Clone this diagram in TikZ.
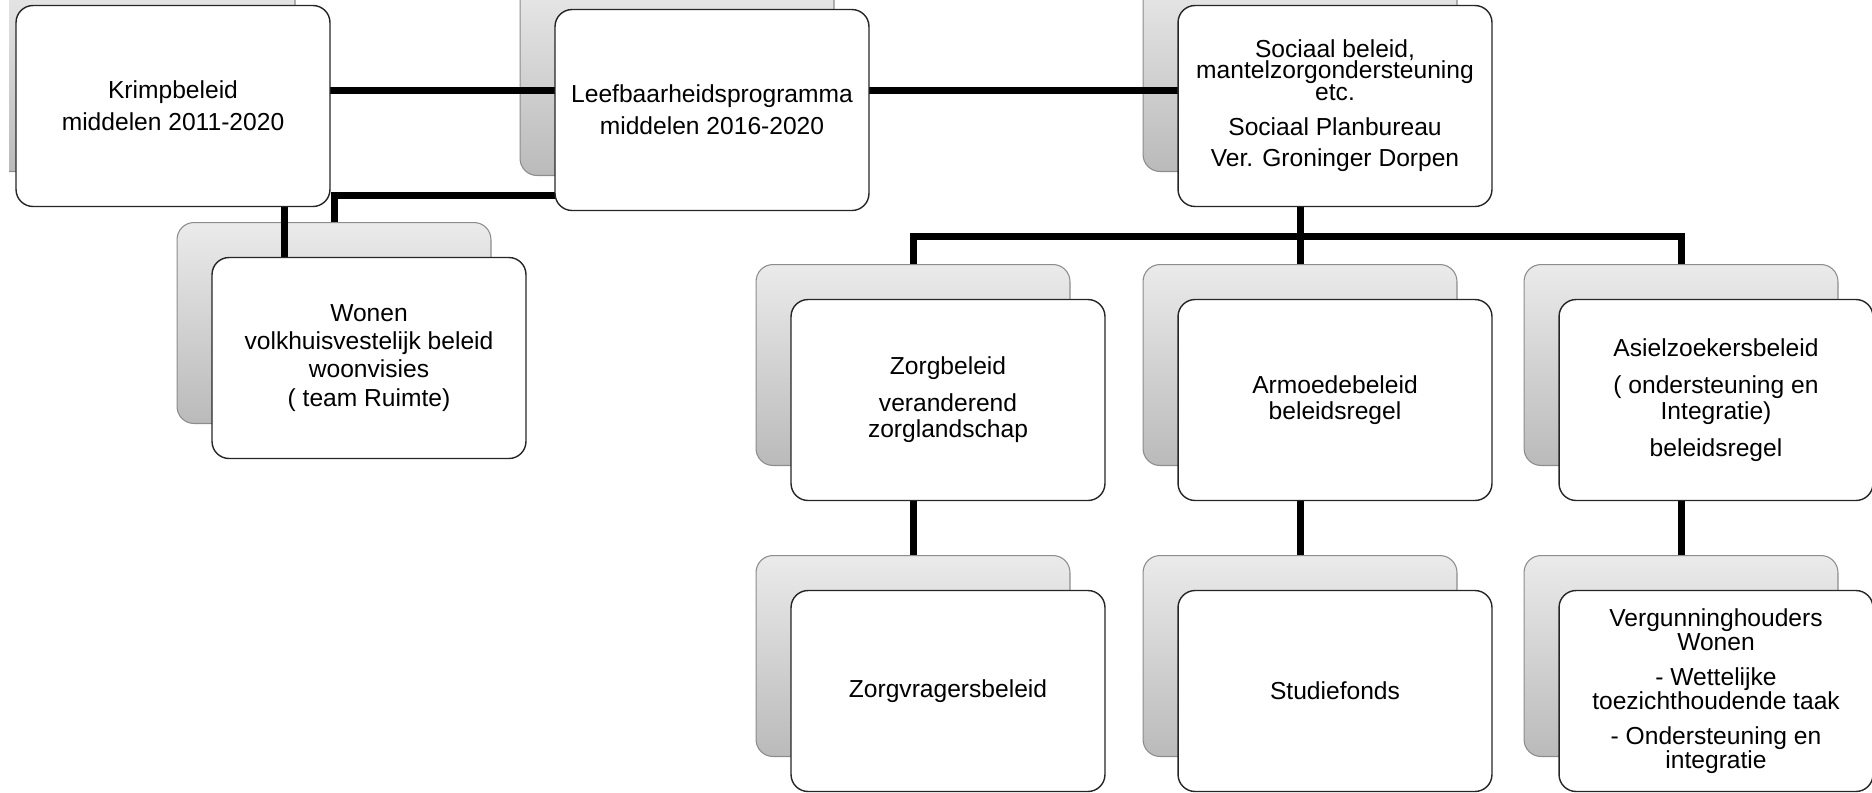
\documentclass[tikz,border=0pt]{standalone}
\usepackage{fontspec}
\setmainfont{Liberation Sans}
\usepackage{tikz}

\begin{document}
\setlength{\lineskiplimit}{-20pt}
\begin{tikzpicture}[x=0.02cm,y=-0.02cm,
        back/.style={rectangle,rounded corners=0.34cm,draw=black!45,line width=0.6pt,top color=black!8,bottom color=black!27,minimum width=6.28cm,minimum height=4.02cm},
        card/.style={rectangle,rounded corners=0.34cm,draw=black!85,line width=0.8pt,fill=white,align=center,minimum width=6.28cm,minimum height=4.02cm,font=\fontsize{14}{15}\selectfont},
        link/.style={line width=0.14cm}]
        \useasboundingbox (0,0) rectangle (1872,792);
        \clip (9,0) rectangle (1872,792);
        % achterste kaarten
        \node[back] (krimp-bg) at (138,71) {};
        \node[back] (leef-bg) at (677,75) {};
        \node[back] (sociaal-bg) at (1300,71) {};
        \node[back] (wonen-bg) at (334,323) {};
        \node[back] (zorg-bg) at (913,365) {};
        \node[back] (armoede-bg) at (1300,365) {};
        \node[back] (asiel-bg) at (1681,365) {};
        \node[back] (zorgvr-bg) at (913,656) {};
        \node[back] (studie-bg) at (1300,656) {};
        \node[back] (vergun-bg) at (1681,656) {};
        % verbindingen
        \coordinate (toprow) at (0,90);
        \coordinate (lw) at (0,195);
        \coordinate (kw) at (284,0);
        \coordinate (hub) at (1300,236);
        \draw[link] (krimp-bg.center |- toprow) -- (leef-bg.center |- toprow);
        \draw[link] (leef-bg.center |- toprow) -- (sociaal-bg.center |- toprow);
        \draw[link] (kw |- krimp-bg.center) -- (kw |- wonen-bg.center);
        \draw[link] (leef-bg.center |- lw) -| (wonen-bg.north);
        \draw[link] (sociaal-bg.center) -- (hub);
        \draw[link] (hub) -| (zorg-bg.north);
        \draw[link] (hub) -- (armoede-bg.north);
        \draw[link] (hub) -| (asiel-bg.north);
        \draw[link] (zorg-bg.center) -- (zorgvr-bg.north);
        \draw[link] (armoede-bg.center) -- (studie-bg.north);
        \draw[link] (asiel-bg.center) -- (vergun-bg.north);
        % voorste kaarten
        \node[card] (krimp) at ([shift={(35,35)}]krimp-bg.center) {Krimpbeleid\\[3pt]middelen 2011-2020};
        \node[card] (leef) at ([shift={(35,35)}]leef-bg.center) {Leefbaarheidsprogramma\\[3pt]middelen 2016-2020};
        \node[card,font=\fontsize{14}{12}\selectfont] (sociaal) at ([shift={(35,35)}]sociaal-bg.center) {Sociaal beleid,\\mantelzorgondersteuning\\etc.\\[8pt]Sociaal Planbureau\\[6pt]Ver. Groninger Dorpen};
        \node[card,font=\fontsize{14}{16}\selectfont] (wonen) at ([shift={(35,35)}]wonen-bg.center) {Wonen\\volkhuisvestelijk beleid\\woonvisies\\( team Ruimte)};
        \node[card] (zorg) at ([shift={(35,35)}]zorg-bg.center) {Zorgbeleid\\[6pt]veranderend\\zorglandschap};
        \node[card] (armoede) at ([shift={(35,35)}]armoede-bg.center) {Armoedebeleid\\beleidsregel};
        \node[card] (asiel) at ([shift={(35,35)}]asiel-bg.center) {Asielzoekersbeleid\\[6pt]( ondersteuning en\\Integratie)\\[6pt]beleidsregel};
        \node[card] (zorgvr) at ([shift={(35,35)}]zorgvr-bg.center) {Zorgvragersbeleid};
        \node[card] (studie) at ([shift={(35,35)}]studie-bg.center) {Studiefonds};
        \node[card,font=\fontsize{14}{13.5}\selectfont] (vergun) at ([shift={(35,35)}]vergun-bg.center) {Vergunninghouders\\Wonen\\[6.5pt]- Wettelijke\\toezichthoudende taak\\[6.5pt]- Ondersteuning en\\integratie};
    \end{tikzpicture}
\end{document}
